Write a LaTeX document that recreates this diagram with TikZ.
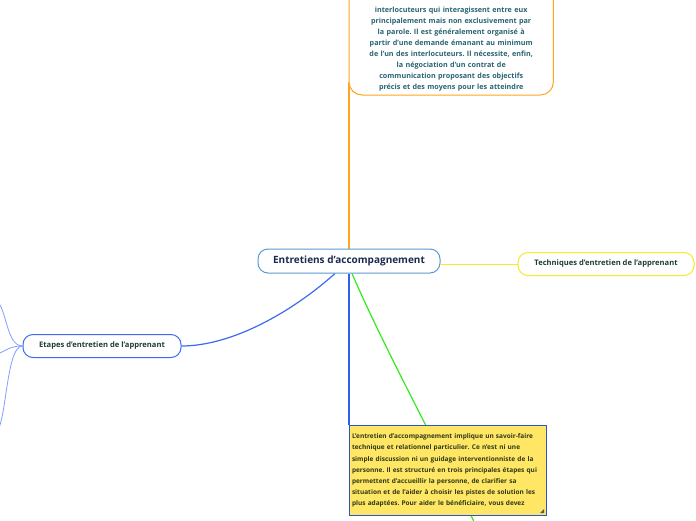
\documentclass[tikz,border=0pt]{standalone}
\usepackage{fontspec}
\setmainfont{Open Sans}
\usetikzlibrary{backgrounds}
\frenchspacing
\definecolor{mainblue}{RGB}{90,155,210}
\definecolor{navytext}{RGB}{27,42,78}
\definecolor{orangec}{RGB}{255,165,30}
\definecolor{tealtext}{RGB}{40,100,115}
\definecolor{yellowc}{RGB}{245,235,40}
\definecolor{etapesblue}{RGB}{59,108,240}
\definecolor{greentext}{RGB}{30,62,45}
\definecolor{notefill}{RGB}{255,230,100}
\definecolor{noteborder}{RGB}{40,85,215}
\definecolor{notetext}{RGB}{45,58,25}
\definecolor{greenc}{RGB}{50,235,30}
\definecolor{vertblue}{RGB}{46,95,240}
\definecolor{braceblue}{RGB}{130,160,255}
\tikzset{
  mainnode/.style={draw=mainblue, line width=1pt, rounded corners=10pt, fill=white,
    font=\bfseries\fontsize{10}{12}\selectfont, text=navytext, minimum width=182pt, minimum height=24pt, inner sep=0pt},
  technode/.style={draw=yellowc, line width=1pt, rounded corners=10pt, fill=white,
    font=\bfseries\fontsize{7.6}{9}\selectfont, text=greentext, minimum width=176pt, minimum height=23pt, inner sep=0pt},
  etapenode/.style={draw=etapesblue, line width=1pt, rounded corners=10pt, fill=white,
    font=\bfseries\fontsize{7.6}{9}\selectfont, text=greentext, minimum width=158pt, minimum height=23pt, inner sep=0pt},
  toptext/.style={font=\bfseries\fontsize{7.2}{10.9}\selectfont, text=tealtext, align=center,
    minimum width=204pt, text width=196pt, inner sep=4pt},
  topframe/.style={draw=orangec, line width=1pt, rounded corners=13pt, fill=white},
  notebox/.style={draw=noteborder, line width=1pt, fill=notefill,
    font=\bfseries\fontsize{6.5}{11.2}\selectfont, text=notetext, align=left,
    minimum width=197pt, minimum height=90pt, text width=192pt, inner xsep=2.5pt, inner ysep=4pt},
  orangeline/.style={draw=orangec, line width=1.2pt},
  yellowline/.style={draw=yellowc, line width=1pt},
  blueline/.style={draw=etapesblue, line width=1.2pt},
  vertline/.style={draw=vertblue, line width=1.2pt},
  greenline/.style={draw=greenc, line width=1.2pt},
  braceline/.style={draw=braceblue, line width=0.8pt},
}
\begin{document}
\begin{tikzpicture}[x=1pt,y=-1pt]
\useasboundingbox (0,0) rectangle (696,520);
\clip (0,0) rectangle (696,520);

\node[mainnode] (c) at (349,261) {Entretiens d'accompagnement};
\node[technode] (t) at (606,264) {Techniques d'entretien de l'apprenant};
\node[etapenode] (e) at (102,346) {Etapes d'entretien de l'apprenant};
\node[toptext, anchor=south west] (top) at (349,95) {interlocuteurs qui interagissent entre eux\\
principalement mais non exclusivement par\\
la parole. Il est généralement organisé à\\
partir d'une demande émanant au minimum\\
de l'un des interlocuteurs. Il nécessite, enfin,\\
la négociation d'un contrat de\\
communication proposant des objectifs\\
précis et des moyens pour les atteindre};
\node[notebox, anchor=north west] (note) at (349,425) {L'entretien d'accompagnement implique un savoir-faire\\
technique et relationnel particulier. Ce n'est ni une\\
simple discussion ni un guidage interventionniste de la\\
personne. Il est structuré en trois principales étapes qui\\
permettent d'accueillir la personne, de clarifier sa\\
situation et de l'aider à choisir les pistes de solution les\\
plus adaptées. Pour aider le bénéficiaire, vous devez};
\fill[black!65] ([shift={(-3pt,3pt)}]note.south east) -- ++(0,-4) -- ++(-4,4) -- cycle;

\coordinate (g) at (478,530);
\coordinate (l1) at (-6,300);
\coordinate (l2) at (-6,354);
\coordinate (l3) at (-6,434);

\begin{scope}[on background layer]
\fill[white] (0,0) rectangle (696,520);
\draw[orangeline] (c.north) -- ([yshift=13pt]top.south west);
\draw[yellowline] (c.east |- t.west) -- (t.west);
\draw[blueline] ([xshift=-14pt]c.south) .. controls (292,312) and (232,346) .. (e.east);
\draw[vertline] (c.south) -- (note.north west);
\draw[greenline] ([xshift=3pt]c.south) .. controls (385,350) and (440,450) .. (g);
\draw[braceline] (e.west) .. controls (5,346) and (7,302) .. (l1);
\draw[braceline] (e.west) .. controls (6,346) and (4,354) .. (l2);
\draw[braceline] (e.west) .. controls (5,346) and (7,432) .. (l3);
\draw[topframe] (top.south west) rectangle ([yshift=40pt]top.north east);
\end{scope}
\end{tikzpicture}
\end{document}
